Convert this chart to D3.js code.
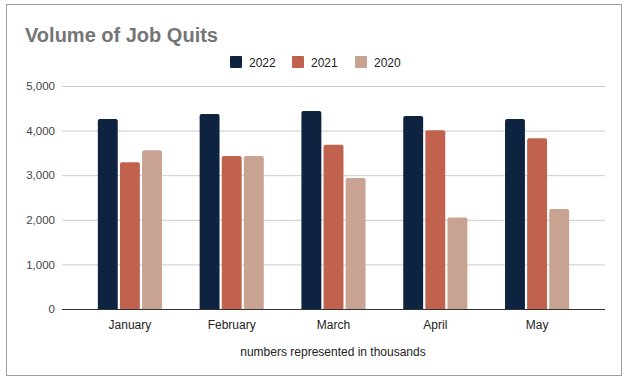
<!DOCTYPE html>
<html>
<head>
<meta charset="utf-8">
<script src="https://cdn.jsdelivr.net/npm/d3@7"></script>
<style>
  body { margin: 0; background: #fff; }
  svg { display: block; font-family: Arial, "Liberation Sans", sans-serif; }
</style>
</head>
<body>
<div id="chart"></div>
<script>
// data, in thousands
const months = ['January', 'February', 'March', 'April', 'May'];
const years = ['2022', '2021', '2020'];
const quits2022 = [4260, 4370, 4440, 4330, 4260];
const quits2021 = [3290, 3430, 3680, 4010, 3830];
const quits2020 = [3560, 3430, 2940, 2050, 2240];
const yTicks = [0, 1000, 2000, 3000, 4000, 5000];
const colors = ['#0e2340', '#c0624e', '#c8a392'];

const series = [quits2022, quits2021, quits2020];

const W = 631, H = 381;
const svg = d3.select('#chart').append('svg')
  .attr('width', W)
  .attr('height', H);

// outer frame
svg.append('rect')
  .attr('x', 6.5).attr('y', 4.5)
  .attr('width', 615).attr('height', 371)
  .attr('fill', '#fff')
  .attr('stroke', '#9e9e9e');

// title
svg.append('text')
  .attr('x', 25).attr('y', 42)
  .attr('fill', '#757575')
  .attr('font-size', 20)
  .attr('font-weight', 'bold')
  .text('Volume of Job Quits');

// plot area
const plot = { left: 62, right: 605, top: 86, bottom: 309 };

const y = d3.scaleLinear()
  .domain([0, 5000])
  .range([plot.bottom, plot.top]);

const x = d3.scaleBand()
  .domain(months)
  .range([79, 588])
  .paddingInner(0.37)
  .paddingOuter(0.185);

const xs = d3.scaleBand()
  .domain(years)
  .range([0, x.bandwidth()])
  .paddingInner(0.1);

// gridlines + y labels
const yAxis = d3.axisLeft(y)
  .tickValues(yTicks)
  .tickSize(-(plot.right - plot.left))
  .tickPadding(7)
  .tickFormat(d3.format(','));

svg.append('g')
  .attr('transform', `translate(${plot.left},0)`)
  .call(yAxis)
  .call(g => g.select('.domain').remove())
  .call(g => g.selectAll('.tick line').attr('stroke', '#cccccc'))
  .call(g => g.selectAll('.tick text')
    .attr('fill', '#444').attr('font-size', 11.5));

// bars
const groups = svg.append('g').selectAll('g')
  .data(months)
  .join('g')
  .attr('transform', d => `translate(${x(d)},0)`);

groups.selectAll('path')
  .data((m, i) => years.map((yr, k) => ({ yr, v: series[k][i], c: colors[k] })))
  .join('path')
  .attr('fill', d => d.c)
  .attr('d', d => {
    const x0 = xs(d.yr), w = xs.bandwidth(), y0 = y(d.v), r = 2;
    return `M${x0},${plot.bottom}V${y0 + r}Q${x0},${y0} ${x0 + r},${y0}` +
      `H${x0 + w - r}Q${x0 + w},${y0} ${x0 + w},${y0 + r}V${plot.bottom}Z`;
  });

// baseline
svg.append('line')
  .attr('x1', plot.left).attr('x2', plot.right)
  .attr('y1', plot.bottom + 0.5).attr('y2', plot.bottom + 0.5)
  .attr('stroke', '#333');

// x labels
const xAxis = d3.axisBottom(x).tickSize(0).tickPadding(11);
svg.append('g')
  .attr('transform', `translate(0,${plot.bottom})`)
  .call(xAxis)
  .call(g => g.select('.domain').remove())
  .call(g => g.selectAll('.tick text')
    .attr('fill', '#222').attr('font-size', 12));

// axis title
svg.append('text')
  .attr('x', 333).attr('y', 356)
  .attr('text-anchor', 'middle')
  .attr('fill', '#222')
  .attr('font-size', 12)
  .text('numbers represented in thousands');

// legend
const legendX = [230, 292, 355];
const legend = svg.append('g').selectAll('g')
  .data(years)
  .join('g')
  .attr('transform', (d, i) => `translate(${legendX[i]},56)`);

legend.append('rect')
  .attr('width', 12).attr('height', 12)
  .attr('rx', 1)
  .attr('fill', (d, i) => colors[i]);

legend.append('text')
  .attr('x', 19).attr('y', 10.5)
  .attr('fill', '#222')
  .attr('font-size', 12)
  .text(d => d);
</script>
</body>
</html>
